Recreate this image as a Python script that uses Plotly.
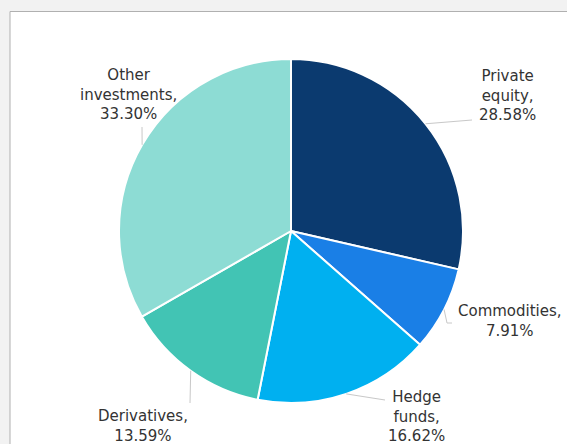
import math
import plotly.graph_objects as go

# ---- data ----
labels = ["Private equity", "Commodities", "Hedge funds", "Derivatives", "Other investments"]
label_lines = [["Private", "equity,"], ["Commodities,"], ["Hedge", "funds,"], ["Derivatives,"], ["Other", "investments,"]]
values = [28.58, 7.91, 16.62, 13.59, 33.30]
colors = ["#0b3a6f", "#1a7fe6", "#00b0f0", "#42c4b4", "#8ddcd4"]

# ---- layout constants (pixels) ----
W, H = 567, 444
CX, CY, R = 291, 231, 172

def px(x):
    return x / W

def py(y):
    return 1 - y / H

# label centre positions and leader bend points (pixels)
label_pos = [(507, 95), (510, 321), (416, 416), (143, 426), (128, 94)]
leader_pts = [
    [(472, 120)],
    [(447, 323), (452, 323)],
    [(385, 400)],
    [(190, 403)],
    [(142, 127)],
]

fig = go.Figure()
fig.add_trace(go.Pie(
    labels=labels,
    values=values,
    sort=False,
    direction="clockwise",
    rotation=0,
    marker=dict(colors=colors, line=dict(color="white", width=2)),
    textinfo="none",
    hoverinfo="label+percent",
    showlegend=False,
    domain=dict(x=[px(CX - R), px(CX + R)], y=[py(CY + R), py(CY - R)]),
))

total = sum(values)
cum = 0.0
shapes = [
    dict(type="rect", xref="paper", yref="paper", layer="below",
         x0=px(10), x1=1.05, y0=-0.05, y1=py(11.5),
         fillcolor="white", line=dict(color="#b0b0b0", width=1)),
]
annotations = []
for i, v in enumerate(values):
    mid = (cum + v / 2) / total * 2 * math.pi
    cum += v
    ex = CX + R * math.sin(mid)
    ey = CY - R * math.cos(mid)
    pts = [(ex, ey)] + leader_pts[i]
    path = "M " + " L ".join(f"{px(x)},{py(y)}" for x, y in pts)
    shapes.append(dict(type="path", xref="paper", yref="paper", path=path,
                       line=dict(color="#c8c8c8", width=1)))
    pct = f"{v / total * 100:.2f}%"
    text = "<br>".join(label_lines[i] + [pct])
    lx, ly = label_pos[i]
    annotations.append(dict(
        x=px(lx), y=py(ly), xref="paper", yref="paper",
        text=text, showarrow=False, align="center",
        xanchor="center", yanchor="middle",
        font=dict(family="DejaVu Sans", size=15, color="#333333"),
    ))

fig.update_layout(
    width=W, height=H,
    margin=dict(l=0, r=0, t=0, b=0),
    paper_bgcolor="#f2f2f2",
    plot_bgcolor="#f2f2f2",
    shapes=shapes,
    annotations=annotations,
)

fig.write_html(
    "out.html",
    config={"displayModeBar": False},
    post_script="document.body.style.margin='0';document.body.style.overflow='hidden';",
)
